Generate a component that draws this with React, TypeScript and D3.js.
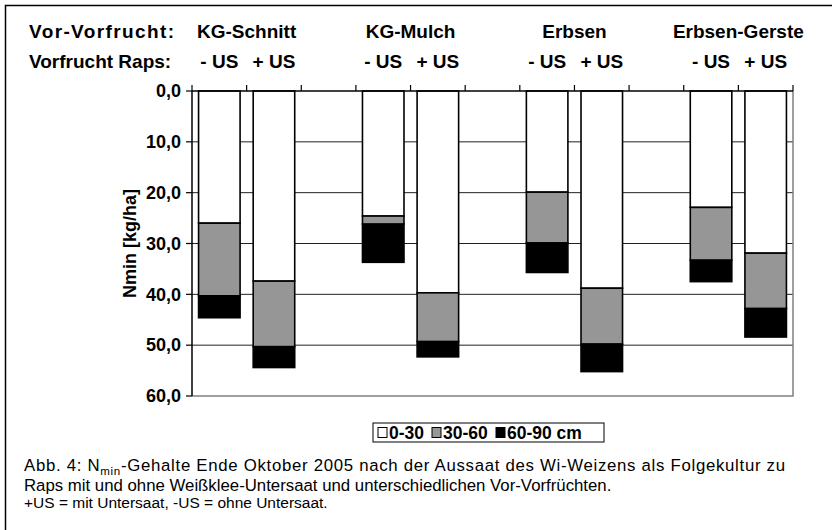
import React from "react";
import * as d3 from "d3";

// N-min Gehalte (kg/ha) je Tiefe, Reihenfolge: Gruppe x (-US, +US)
const groups = ["KG-Schnitt", "KG-Mulch", "Erbsen", "Erbsen-Gerste"];
const treatments = ["- US", "+ US"];
const layers = ["0-30", "30-60", "60-90 cm"];
const depth0_30 = [26.0, 37.4, 24.6, 39.7, 19.9, 38.8, 22.9, 31.9];
const depth30_60 = [14.3, 12.9, 1.6, 9.6, 10.0, 11.0, 10.4, 10.9];
const depth60_90 = [4.3, 4.1, 7.5, 3.0, 5.8, 5.4, 4.2, 5.6];
const yTicks = [0, 10, 20, 30, 40, 50, 60];

const layerColors = ["#ffffff", "#969696", "#000000"];
const font = "'Liberation Sans', Arial, sans-serif";

const W = 832;
const H = 530;
const m = { left: 192, right: 793, top: 91, bottom: 396 };

// slots incl. empty gaps between groups
const slots: string[] = [];
groups.forEach((g, gi) => {
  treatments.forEach((t) => slots.push(`${g}|${t}`));
  if (gi < groups.length - 1) slots.push(`gap${gi}`);
});

const bars = groups.flatMap((g, gi) =>
  treatments.map((t, ti) => {
    const i = gi * 2 + ti;
    return { key: `${g}|${t}`, label: t, values: [depth0_30[i], depth30_60[i], depth60_90[i]] };
  })
);

export default function App() {
  const x = d3
    .scaleBand<string>()
    .domain(slots)
    .range([m.left, m.right])
    .paddingInner(0.24)
    .paddingOuter(0.12);
  const y = d3.scaleLinear().domain([0, 60]).range([m.top, m.bottom]);
  const step = x.step();
  const stack = d3.stack<number[]>().keys(["0", "1", "2"]).value((d, k) => d[+k]);
  const series = stack(bars.map((b) => b.values));

  // legend entries: square + label
  const legX = 373;
  const legW = 231;
  const legItems = [378, 432, 496];

  return (
    <svg
      width={W}
      height={H}
      style={{ position: "absolute", left: 0, top: 0, background: "#fff" }}
      fontFamily={font}
    >
      <path d={`M5.5,${H} V5.5 H${W}`} fill="none" stroke="#000" strokeWidth={1.5} />

      {/* header rows */}
      <g fontWeight="bold" fontSize={19} fill="#000">
        <text x={29} y={38} textLength={145} lengthAdjust="spacing">Vor-Vorfrucht:</text>
        <text x={29} y={68}>Vorfrucht Raps:</text>
        {groups.map((g) => {
          const a = x(`${g}|${treatments[0]}`)!;
          const b = x(`${g}|${treatments[1]}`)! + x.bandwidth();
          return (
            <text key={g} x={(a + b) / 2} y={38} textAnchor="middle">
              {g}
            </text>
          );
        })}
        {bars.map((b) => (
          <text key={b.key} x={x(b.key)! + x.bandwidth() / 2} y={68} textAnchor="middle">
            {b.label}
          </text>
        ))}
      </g>

      {/* gridlines */}
      {yTicks.slice(1, -1).map((t) => (
        <line key={t} x1={m.left} x2={m.right} y1={y(t)} y2={y(t)} stroke="#222" strokeWidth={1} />
      ))}
      {/* plot border right/bottom */}
      <path
        d={`M${m.left},${y(60)} H${m.right} V${m.top}`}
        fill="none"
        stroke="#808080"
        strokeWidth={1.5}
      />

      {/* bars */}
      {series.map((s, si) =>
        s.map((d, i) => (
          <rect
            key={`${si}-${i}`}
            x={x(bars[i].key)!}
            y={y(d[0])}
            width={x.bandwidth()}
            height={y(d[1]) - y(d[0])}
            fill={layerColors[si]}
            stroke="#000"
            strokeWidth={1.6}
          />
        ))
      )}

      {/* top axis */}
      <line x1={m.left} x2={m.right} y1={m.top} y2={m.top} stroke="#000" strokeWidth={1.5} />
      {d3.range(slots.length + 1).map((k) => {
        const px = m.left + k * step;
        return <line key={k} x1={px} x2={px} y1={m.top - 6} y2={m.top} stroke="#000" strokeWidth={1.2} />;
      })}

      {/* y axis */}
      <line x1={m.left} x2={m.left} y1={m.top} y2={m.bottom} stroke="#000" strokeWidth={1.5} />
      <g fontWeight="bold" fontSize={18} textAnchor="end">
        {yTicks.map((t) => (
          <g key={t}>
            <line x1={m.left - 6} x2={m.left} y1={y(t)} y2={y(t)} stroke="#000" strokeWidth={1.2} />
            <text x={181} y={y(t)} dy="0.35em">
              {d3.format(".1f")(t).replace(".", ",")}
            </text>
          </g>
        ))}
      </g>
      <text
        transform={`translate(136,${(m.top + m.bottom) / 2}) rotate(-90)`}
        textAnchor="middle"
        fontWeight="bold"
        fontSize={18}
      >
        Nmin [kg/ha]
      </text>

      {/* legend */}
      <g>
        <rect x={legX} y={423} width={legW} height={19} fill="#fff" stroke="#000" strokeWidth={1} />
        {layers.map((l, i) => (
          <g key={l}>
            <rect
              x={legItems[i]}
              y={427.5}
              width={9}
              height={10}
              fill={layerColors[i]}
              stroke="#000"
              strokeWidth={1}
            />
            <text x={legItems[i] + 11} y={438.5} fontWeight="bold" fontSize={17.5}>
              {l}
            </text>
          </g>
        ))}
      </g>

      {/* caption (first line justified) */}
      <g fontSize={16.8} fill="#000">
        <text x={24} y={471} textLength={761} lengthAdjust="spacing">
          Abb. 4: N<tspan fontSize={11.5} dy={4}>min</tspan>
          <tspan dy={-4}>-Gehalte Ende Oktober 2005 nach der Aussaat des Wi-Weizens als Folgekultur zu</tspan>
        </text>
        <text x={24} y={491}>
          Raps mit und ohne Weißklee-Untersaat und unterschiedlichen Vor-Vorfrüchten.
        </text>
        <text x={24} y={508} fontSize={15.5}>
          +US = mit Untersaat, -US = ohne Untersaat.
        </text>
      </g>
    </svg>
  );
}
